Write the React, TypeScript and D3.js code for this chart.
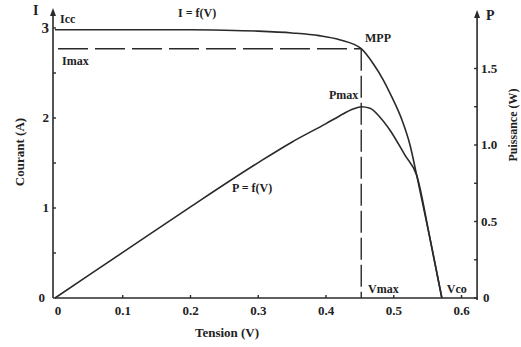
import React from "react";
import * as d3 from "d3";

// I = f(V) curve (V in volts, I in amperes)
const ivVoltage = [0, 0.1, 0.2, 0.25, 0.3, 0.35, 0.39, 0.42, 0.452, 0.47, 0.484, 0.498, 0.512, 0.524, 0.534, 0.553, 0.571];
const ivCurrent = [2.98, 2.98, 2.98, 2.975, 2.965, 2.945, 2.915, 2.87, 2.77, 2.6, 2.43, 2.22, 1.98, 1.7, 1.36, 0.68, 0];

// P = f(V) curve (V in volts, P in watts)
const pvVoltage = [0, 0.1, 0.2, 0.3, 0.35, 0.4, 0.42, 0.44, 0.452, 0.465, 0.48, 0.494, 0.517, 0.534, 0.553, 0.571];
const pvPower = [0, 0.298, 0.596, 0.885, 1.02, 1.14, 1.19, 1.235, 1.25, 1.24, 1.18, 1.1, 0.93, 0.8, 0.4, 0];

const xTicks = [0, 0.1, 0.2, 0.3, 0.4, 0.5, 0.6];
const xTickLabels = ["0", "0.1", "0.2", "0.3", "0.4", "0.5", "0.6"];
const iTicks = [0, 1, 2, 3];
const iMinorTicks = [0.5, 1.5, 2.5];
const pTicks = [0, 0.5, 1.0, 1.5];
const pTickLabels = ["0", "0.5", "1.0", "1.5"];
const pMinorTicks = [0.25, 0.75, 1.25];

const vMax = 0.452;
const iMax = 2.77;
const pMax = 1.25;
const vCo = 0.571;

export default function App() {
  const W = 521;
  const H = 347;
  const x = d3.scaleLinear().domain([0, 0.6]).range([55, 461.5]);
  const yI = d3.scaleLinear().domain([0, 3]).range([298, 28]);
  const yP = d3.scaleLinear().domain([0, 1.5]).range([298, 68.5]);
  const rightX = x(0.623);

  const ivLine = d3
    .line<number>()
    .x((_, i) => x(ivVoltage[i]))
    .y((d) => yI(d))
    .curve(d3.curveMonotoneX);
  const pvLine = d3
    .line<number>()
    .x((_, i) => x(pvVoltage[i]))
    .y((d) => yP(d))
    .curve(d3.curveMonotoneX);

  const ink = "#2a2a2a";
  const font = "'Liberation Serif', 'DejaVu Serif', serif";
  const lbl = { fontFamily: font, fontWeight: 700, fill: "#222" } as const;

  return (
    <svg
      width={W}
      height={H}
      style={{ position: "absolute", left: 0, top: 0, background: "#fff" }}
    >
      {/* curves */}
      <path d={ivLine(ivCurrent) || ""} fill="none" stroke={ink} strokeWidth={1.6} />
      <path d={pvLine(pvPower) || ""} fill="none" stroke={ink} strokeWidth={1.6} />

      {/* MPP dashed guides */}
      <line x1={x(0)} x2={x(vMax)} y1={yI(iMax)} y2={yI(iMax)} stroke={ink} strokeWidth={1.4} strokeDasharray="30 7" strokeDashoffset={-3} />
      <line x1={x(vMax)} x2={x(vMax)} y1={yI(iMax)} y2={yI(0)} stroke={ink} strokeWidth={1.4} strokeDasharray="22 5" />

      {/* axes */}
      <line x1={x(0)} x2={rightX} y1={yI(0)} y2={yI(0)} stroke={ink} strokeWidth={1.6} />
      <line x1={x(0) - 2} x2={x(0) - 2} y1={yI(0)} y2={11} stroke={ink} strokeWidth={1.6} />
      <path d={`M${x(0) - 2},8 L${x(0) - 5},16 L${x(0) + 1},16 Z`} fill={ink} />
      <line x1={rightX} x2={rightX} y1={yP(0) + 2} y2={13} stroke={ink} strokeWidth={1.6} />
      <path d={`M${rightX},10 L${rightX - 3},18 L${rightX + 3},18 Z`} fill={ink} />

      {/* x ticks */}
      {xTicks.map((t, i) => (
        <g key={"xt" + i}>
          {i > 0 && <line x1={x(t)} x2={x(t)} y1={yI(0)} y2={yI(0) - 3} stroke={ink} strokeWidth={1.4} />}
          <text x={x(t) + (i === 0 ? 3 : 0)} y={315} textAnchor="middle" fontSize={13} {...lbl}>
            {xTickLabels[i]}
          </text>
        </g>
      ))}

      {/* left ticks */}
      {iTicks.concat(iMinorTicks).map((t, i) => (
        <line key={"it" + i} x1={x(0) - 2} x2={x(0) + 1} y1={yI(t)} y2={yI(t)} stroke={ink} strokeWidth={1.4} />
      ))}
      {iTicks.map((t, i) => (
        <text key={"il" + i} x={i === 0 ? 45 : 49} y={yI(t) + (i === 3 ? 5 : 4)} textAnchor="end" fontSize={i === 3 ? 15 : 13} {...lbl}>
          {t}
        </text>
      ))}

      {/* right ticks */}
      {pTicks.concat(pMinorTicks).map((t, i) => (
        <line key={"pt" + i} x1={rightX - 3} x2={rightX} y1={yP(t)} y2={yP(t)} stroke={ink} strokeWidth={1.4} />
      ))}
      {pTicks.map((t, i) => (
        <text key={"pl" + i} x={rightX + (i === 0 ? 6 : 4)} y={yP(t) + 4} textAnchor="start" fontSize={13} {...lbl}>
          {pTickLabels[i]}
        </text>
      ))}

      {/* axis titles */}
      <text x={33} y={15} fontSize={14} {...lbl}>I</text>
      <text x={486} y={20} fontSize={14} {...lbl}>P</text>
      <text x={227} y={337} textAnchor="middle" fontSize={13} {...lbl}>Tension (V)</text>
      <text transform={`translate(24,152) rotate(-90)`} textAnchor="middle" fontSize={13} {...lbl}>Courant (A)</text>
      <text transform={`translate(517,125) rotate(-90)`} textAnchor="middle" fontSize={12} {...lbl}>Puissance (W)</text>

      {/* annotations */}
      <text x={60} y={23} fontSize={12} {...lbl}>Icc</text>
      <text x={62} y={65} fontSize={12} {...lbl}>Imax</text>
      <text x={178} y={17} fontSize={12} {...lbl}>I = f(V)</text>
      <text x={365} y={42} fontSize={12} {...lbl}>MPP</text>
      <text x={x(vMax) - 3} y={yP(pMax) - 8} textAnchor="end" fontSize={12} {...lbl}>Pmax</text>
      <text x={232} y={192} fontSize={12} {...lbl}>P = f(V)</text>
      <text x={368} y={293} fontSize={12} {...lbl}>Vmax</text>
      <text x={x(vCo) + 5} y={293} fontSize={12} {...lbl}>Vco</text>
    </svg>
  );
}
